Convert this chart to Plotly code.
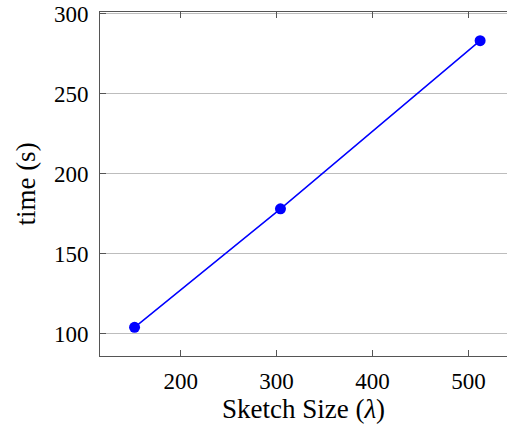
import plotly.graph_objects as go

sketch_size = [152, 304, 512]
time_s = [104, 178, 283]
x_ticks = [200, 300, 400, 500]
y_ticks = [100, 150, 200, 250, 300]

FONT = "Liberation Serif, DejaVu Serif, serif"

fig = go.Figure()
fig.add_trace(go.Scatter(
    x=sketch_size, y=time_s, mode="lines+markers",
    line=dict(color="#0000ff", width=1.5),
    marker=dict(color="#0000ff", size=11),
    showlegend=False,
))

fig.update_layout(
    width=507, height=428,
    margin=dict(l=100, r=0, t=12, b=72),
    paper_bgcolor="white", plot_bgcolor="white",
    font=dict(family=FONT, size=22, color="black"),
    xaxis=dict(
        range=[116, 540], tickvals=x_ticks, ticks="inside", ticklen=6,
        tickcolor="#555", showline=True, linecolor="#555", linewidth=1,
        mirror="ticks", showgrid=False, zeroline=False,
        ticklabelstandoff=4,
        tickfont=dict(family=FONT, size=23, color="black"),
        title=dict(text="Sketch Size (<i>λ</i>)", standoff=4,
                   font=dict(family=FONT, size=27, color="black")),
    ),
    yaxis=dict(
        range=[86.1, 300.9], tickvals=y_ticks, ticks="inside", ticklen=6,
        tickcolor="#555", showline=True, linecolor="#555", linewidth=1,
        showgrid=True, gridcolor="#bdbdbd", gridwidth=1, zeroline=False,
        ticklabelstandoff=6,
        tickfont=dict(family=FONT, size=23, color="black"),
        title=dict(text="time (s)", standoff=10,
                   font=dict(family=FONT, size=27, color="black")),
    ),
)

fig.write_html("out.html")
